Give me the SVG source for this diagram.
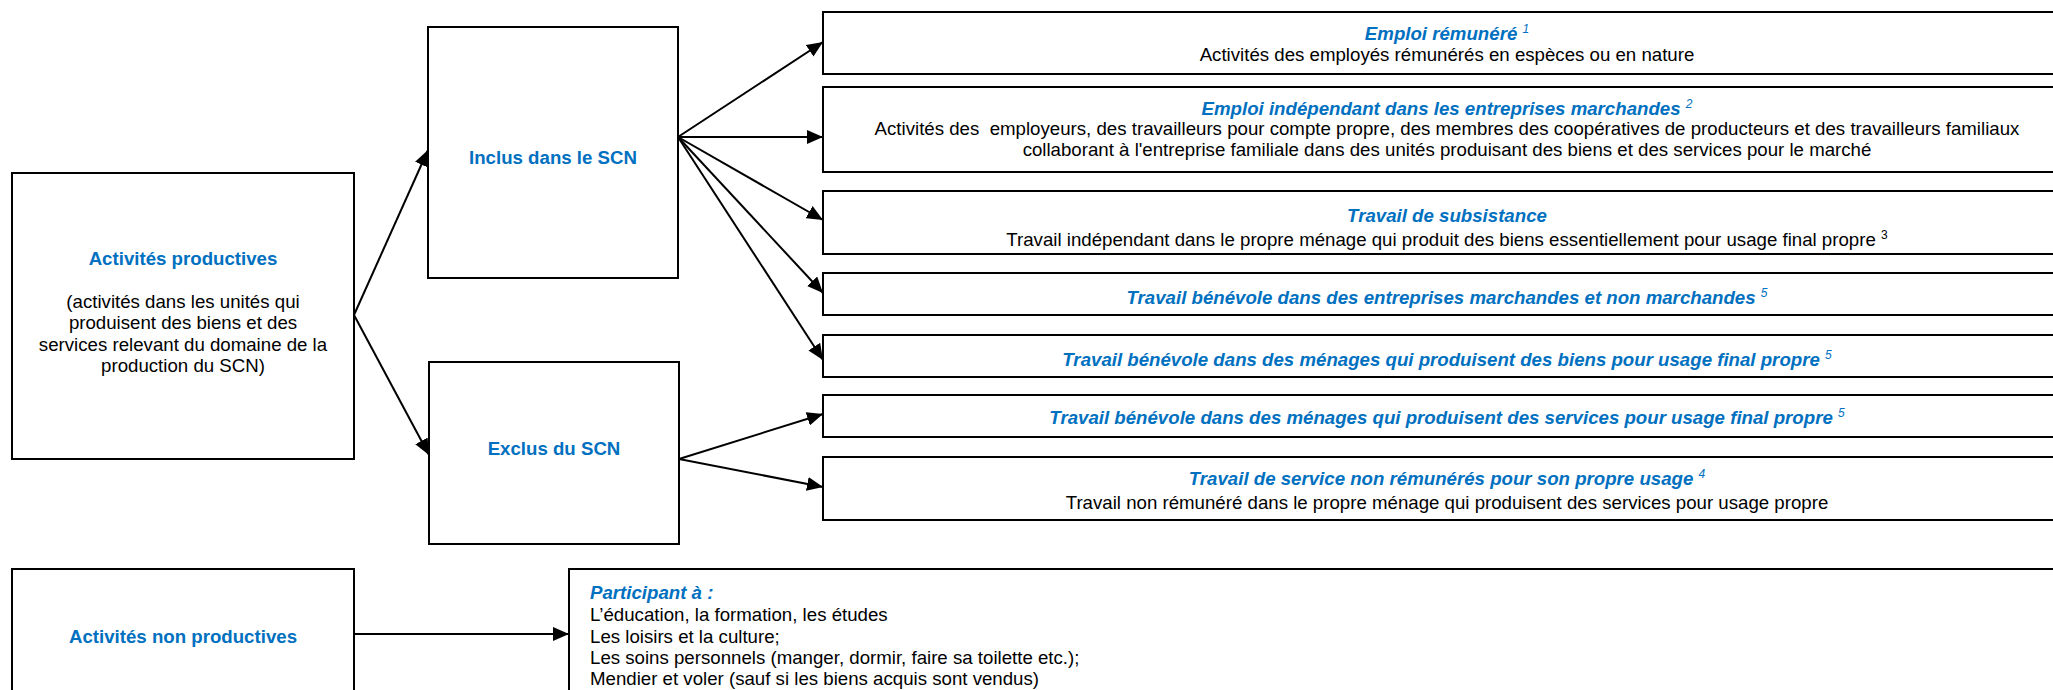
<svg xmlns="http://www.w3.org/2000/svg" width="2053" height="690" viewBox="0 0 2053 690">
<style>
.box{fill:#fff;stroke:#000;stroke-width:2}
.t{font-family:"Liberation Sans",Arial,sans-serif;font-size:18.67px;fill:#000}
.h{font-family:"Liberation Sans",Arial,sans-serif;font-size:18.67px;font-weight:bold;fill:#0070C0}
.hi{font-family:"Liberation Sans",Arial,sans-serif;font-size:18.67px;font-weight:bold;font-style:italic;fill:#0070C0}
.c{text-anchor:middle}
.sup{font-size:12px;font-weight:normal}
.con{stroke:#000;stroke-width:2;fill:none;marker-end:url(#arr)}
</style>
<defs>
<marker id="arr" markerUnits="userSpaceOnUse" markerWidth="16" markerHeight="14" refX="16" refY="7" orient="auto">
<path d="M0,0 L16,7 L0,14 z" fill="#000"/>
</marker>
</defs>
<rect width="2053" height="690" fill="#fff"/>
<g id="connectors">
<line class="con" x1="354" y1="315" x2="428" y2="150"/>
<line class="con" x1="354" y1="315" x2="429" y2="455"/>
<line class="con" x1="678" y1="137" x2="823" y2="42"/>
<line class="con" x1="678" y1="137" x2="823" y2="137"/>
<line class="con" x1="678" y1="137" x2="823" y2="220"/>
<line class="con" x1="678" y1="137" x2="823" y2="293"/>
<line class="con" x1="678" y1="137" x2="823" y2="360"/>
<line class="con" x1="679" y1="459" x2="823" y2="414"/>
<line class="con" x1="679" y1="459" x2="823" y2="487"/>
<line class="con" x1="354" y1="634" x2="569" y2="634"/>
</g>
<g id="productives">
<rect class="box" x="12" y="173" width="342" height="286"/>
<text class="h c" x="183" y="265">Activités productives</text>
<text class="t c" x="183" y="308">(activités dans les unités qui</text>
<text class="t c" x="183" y="329">produisent des biens et des</text>
<text class="t c" x="183" y="351">services relevant du domaine de la</text>
<text class="t c" x="183" y="372">production du SCN)</text>
</g>
<g id="inclus">
<rect class="box" x="428" y="27" width="250" height="251"/>
<text class="h c" x="553" y="164">Inclus dans le SCN</text>
</g>
<g id="exclus">
<rect class="box" x="429" y="362" width="250" height="182"/>
<text class="h c" x="554" y="455">Exclus du SCN</text>
</g>
<g id="emploi-remunere">
<rect class="box" x="823" y="12" width="1248" height="62"/>
<text class="hi c" x="1447" y="40">Emploi rémunéré <tspan class="sup" dy="-7">1</tspan></text>
<text class="t c" x="1447" y="61">Activités des employés rémunérés en espèces ou en nature</text>
</g>
<g id="emploi-independant">
<rect class="box" x="823" y="87" width="1248" height="85"/>
<text class="hi c" x="1447" y="115">Emploi indépendant dans les entreprises marchandes <tspan class="sup" dy="-7">2</tspan></text>
<text class="t c" x="1447" y="135" xml:space="preserve">Activités des  employeurs, des travailleurs pour compte propre, des membres des coopératives de producteurs et des travailleurs familiaux</text>
<text class="t c" x="1447" y="156">collaborant à l'entreprise familiale dans des unités produisant des biens et des services pour le marché</text>
</g>
<g id="subsistance">
<rect class="box" x="823" y="191" width="1248" height="63"/>
<text class="hi c" x="1447" y="222">Travail de subsistance</text>
<text class="t c" x="1447" y="246">Travail indépendant dans le propre ménage qui produit des biens essentiellement pour usage final propre <tspan class="sup" dy="-7">3</tspan></text>
</g>
<g id="benevole-entreprises">
<rect class="box" x="823" y="273" width="1248" height="42"/>
<text class="hi c" x="1447" y="304">Travail bénévole dans des entreprises marchandes et non marchandes <tspan class="sup" dy="-7">5</tspan></text>
</g>
<g id="benevole-biens">
<rect class="box" x="823" y="335" width="1248" height="42"/>
<text class="hi c" x="1447" y="366">Travail bénévole dans des ménages qui produisent des biens pour usage final propre <tspan class="sup" dy="-7">5</tspan></text>
</g>
<g id="benevole-services">
<rect class="box" x="823" y="395" width="1248" height="42"/>
<text class="hi c" x="1447" y="424">Travail bénévole dans des ménages qui produisent des services pour usage final propre <tspan class="sup" dy="-7">5</tspan></text>
</g>
<g id="service-non-remunere">
<rect class="box" x="823" y="457" width="1248" height="63"/>
<text class="hi c" x="1447" y="485">Travail de service non rémunérés pour son propre usage <tspan class="sup" dy="-7">4</tspan></text>
<text class="t c" x="1447" y="509">Travail non rémunéré dans le propre ménage qui produisent des services pour usage propre</text>
</g>
<g id="non-productives">
<rect class="box" x="12" y="569" width="342" height="140"/>
<text class="h c" x="183" y="643">Activités non productives</text>
</g>
<g id="participant">
<rect class="box" x="569" y="569" width="1500" height="140"/>
<text class="hi" x="590" y="599">Participant à :</text>
<text class="t" x="590" y="621">L’éducation, la formation, les études</text>
<text class="t" x="590" y="643">Les loisirs et la culture;</text>
<text class="t" x="590" y="664">Les soins personnels (manger, dormir, faire sa toilette etc.);</text>
<text class="t" x="590" y="685">Mendier et voler (sauf si les biens acquis sont vendus)</text>
</g>
</svg>
